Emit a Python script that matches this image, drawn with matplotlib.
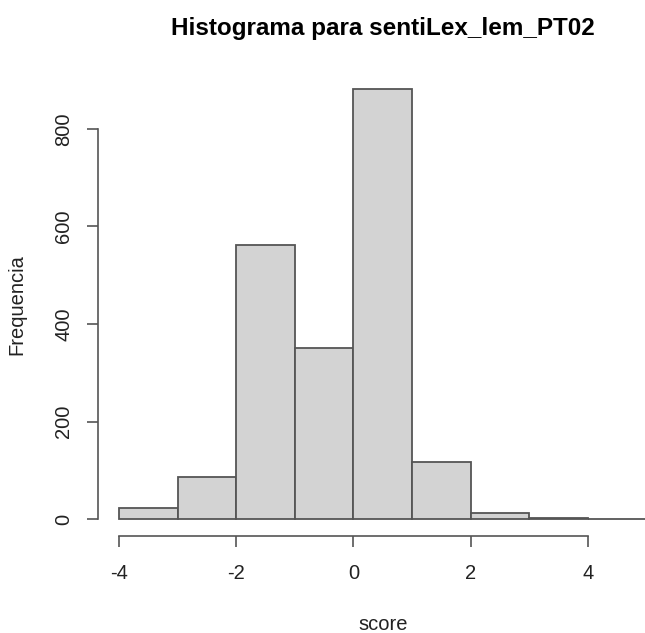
import matplotlib.pyplot as plt
import numpy as np

plt.rcParams['font.family'] = ['Liberation Sans', 'DejaVu Sans']

# histogram of sentiment scores (bin edges and counts)
bin_edges = [-4, -3, -2, -1, 0, 1, 2, 3, 4, 5]
counts = [23, 87, 563, 351, 881, 116, 13, 2, 0]
x_ticks = [-4, -2, 0, 2, 4]
y_ticks = [0, 200, 400, 600, 800]

W, H = 645, 633
fig = plt.figure(figsize=(W / 100, H / 100), dpi=100)
# plot region in pixels (R style, 4% padding, right side cut off)
left, right, top, bottom = 97.9, 667.7, 72.3, 536.2
ax = fig.add_axes([left / W, (H - bottom) / H, (right - left) / W, (bottom - top) / H])

lefts = np.array(bin_edges[:-1])
widths = np.diff(bin_edges)
ax.bar(lefts, counts, width=widths, align='edge', color='#d3d3d3',
       edgecolor='#555555', linewidth=1.3)

pad_x = 0.04 * (bin_edges[-1] - bin_edges[0])
pad_y = 0.04 * max(counts)
ax.set_xlim(bin_edges[0] - pad_x, bin_edges[-1] + pad_x)
ax.set_ylim(-pad_y, max(counts) + pad_y)

for s in ['top', 'right']:
    ax.spines[s].set_visible(False)
ax.spines['left'].set_bounds(y_ticks[0], y_ticks[-1])
ax.spines['bottom'].set_bounds(x_ticks[0], x_ticks[-1])
for s in ['left', 'bottom']:
    ax.spines[s].set_color('#555555')
    ax.spines[s].set_linewidth(1.2)

fs = 14.5
ax.set_xticks(x_ticks)
ax.set_yticks(y_ticks)
ax.set_xticklabels([str(v) for v in x_ticks])
ax.set_yticklabels([str(v) for v in y_ticks], rotation=90, va='center')
ax.tick_params(axis='both', length=7.7, width=1.2, color='#555555',
               labelsize=fs, labelcolor='#222222')
ax.tick_params(axis='x', pad=12.5)
ax.tick_params(axis='y', pad=10)

ax.set_title('Histograma para sentiLex_lem_PT02', fontsize=17.5, fontweight='bold',
             pad=26.5)
ax.set_xlabel('score', fontsize=fs, color='#222222', labelpad=22.5)
ax.set_ylabel('Frequencia', fontsize=fs, color='#222222', labelpad=20)

fig.savefig('out.png', dpi=100)
